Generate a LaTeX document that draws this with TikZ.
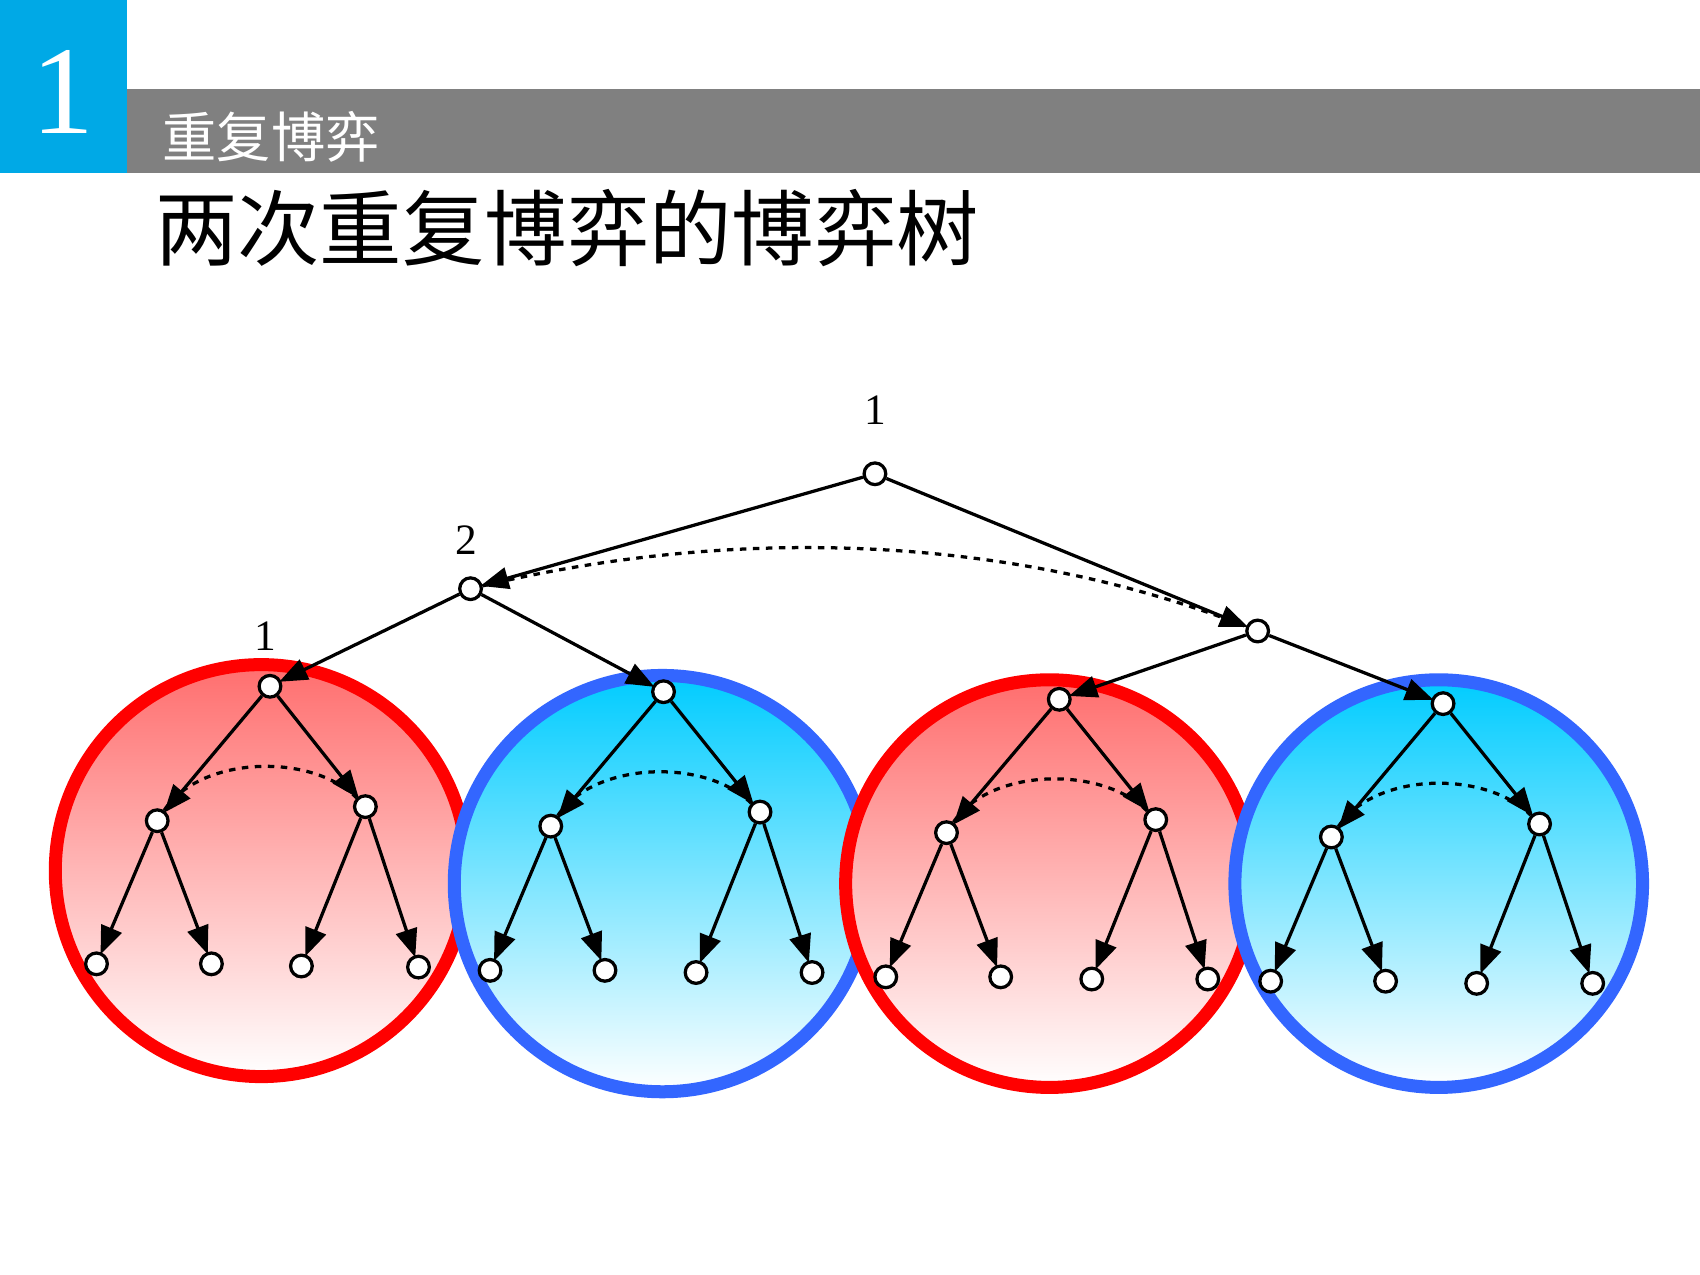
\documentclass[tikz,border=0pt]{standalone}
\usepackage{fontspec}
\setmainfont{Liberation Serif}
\newfontfamily\cjk{Noto Sans CJK SC}
\usetikzlibrary{arrows.meta}
\definecolor{boxblue}{HTML}{00A9E6}
\definecolor{ringblue}{HTML}{3366FF}
\definecolor{fillred}{HTML}{FF6E6E}
\definecolor{fillblue}{HTML}{00CCFF}
\begin{document}
\begin{tikzpicture}[x=0.5pt,y=-0.5pt,
  v/.style={circle,draw=black,fill=white,line width=1.5pt,minimum size=10pt,inner sep=0pt},
  e/.style={line width=1.5pt,-{Triangle[length=13pt,width=10pt]},shorten >=-1pt},
  info/.style={line width=1.5pt,dash pattern=on 3pt off 3pt},
  lab/.style={font=\fontsize{20}{22}\selectfont}]
\useasboundingbox (0,0) rectangle (1568,1176);
\fill[white] (0,0) rectangle (1568,1176);
\fill[boxblue] (0,0) rectangle (117,160);
\fill[gray] (117,82) rectangle (1568,160);
\node[white,font=\fontsize{58}{60}\selectfont] (num) at (58,85) {1};
\node[white,anchor=west,font=\cjk\fontsize{25}{27}\selectfont] (sub) at (143,126) {重复博弈};
\node[anchor=west,font=\cjk\fontsize{38}{40}\selectfont] (title) at (136,210) {两次重复博弈的博弈树};
% circles
\foreach \cx/\cy/\r/\col/\fc in {241/803/190/red/fillred, 611/815/192/ringblue/fillblue, 968/815/188/red/fillred, 1327/815/188/ringblue/fillblue}{
  \shade[top color=\fc,bottom color=white] (\cx,\cy) circle[radius=\r];
  \draw[\col,line width=6pt] (\cx,\cy) circle[radius=\r];
}
% top tree
\node[v] (r) at (807,437) {};
\node[lab] (lr) at (807,378) {1};
\node[v] (a) at (434,543) {};
\node[lab] (la) at (430,498) {2};
\node[v] (b) at (1160,582) {};
\draw[e] (r) -- (a);
\draw[e] (r) -- (b);
\draw[info] (a) .. controls (700,480) and (950,500) .. (b);
\node[lab] (l1) at (245,587) {1};
% subtrees
\foreach \i/\tx/\ty/\lx/\ly/\rx/\ry/\ax/\ay/\bx/\by/\cx/\cy/\dx/\dy in {
 1/249/633/145/757/337/744/89/889/195/889/278/891/386/892,
 2/612/638/508/762/701/749/452/895/558/895/642/897/749/897,
 3/977/645/873/768/1066/756/817/901/923/901/1007/903/1114/903,
 4/1331/649/1228/772/1420/760/1172/905/1278/905/1362/907/1469/907}{
  \node[v] (t\i) at (\tx,\ty) {};
  \node[v] (l\i) at (\lx,\ly) {};
  \node[v] (r\i) at (\rx,\ry) {};
  \node[v] (la\i) at (\ax,\ay) {};
  \node[v] (lb\i) at (\bx,\by) {};
  \node[v] (lc\i) at (\cx,\cy) {};
  \node[v] (ld\i) at (\dx,\dy) {};
  \draw[e] (t\i) -- (l\i);
  \draw[e] (t\i) -- (r\i);
  \draw[e] (l\i) -- (la\i);
  \draw[e] (l\i) -- (lb\i);
  \draw[e] (r\i) -- (lc\i);
  \draw[e] (r\i) -- (ld\i);
  \draw[info] (l\i) .. controls +(40,-60) and +(-50,-50) .. (r\i);
}
\draw[e] (a) -- (t1);
\draw[e] (a) -- (t2);
\draw[e] (b) -- (t3);
\draw[e] (b) -- (t4);
\end{tikzpicture}
\end{document}
